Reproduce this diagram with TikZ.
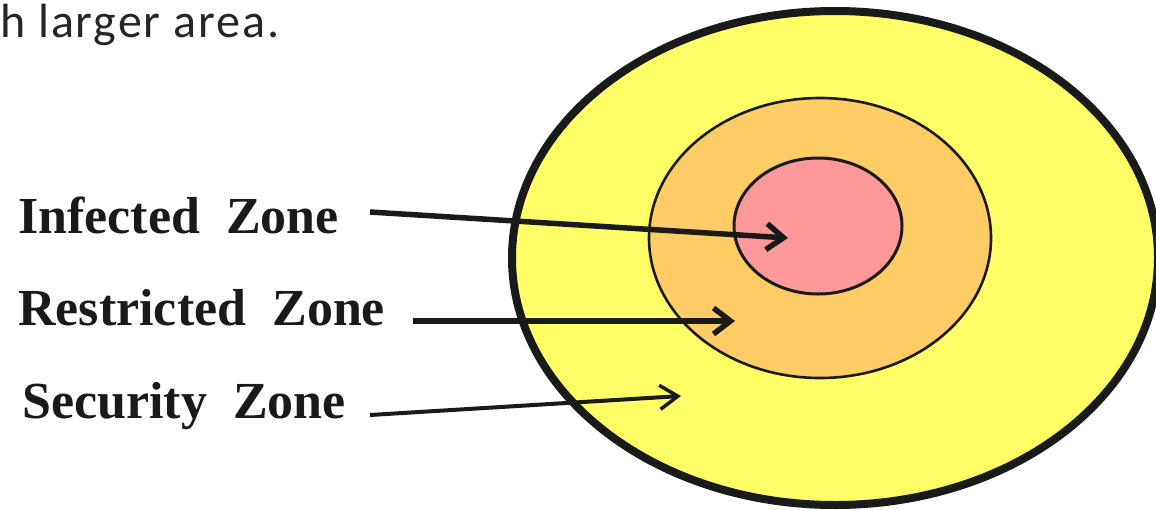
\documentclass[tikz,border=0pt]{standalone}
\usepackage{fontspec}
\setmainfont{Liberation Serif}
\newfontfamily\topfont[LetterSpace=4]{Carlito}
\usetikzlibrary{arrows.meta}
\definecolor{zoneY}{HTML}{FFFF66}
\definecolor{zoneO}{HTML}{FFCC66}
\definecolor{zoneP}{HTML}{FF9999}
\definecolor{ink}{HTML}{1A1A1A}
\definecolor{toptext}{HTML}{262626}
\tikzset{
  zone/.style={draw=ink, line join=round},
  lbl/.style={anchor=base west, inner sep=0pt, font=\fontsize{52}{58}\selectfont\bfseries, text=ink},
  arr/.style={draw=ink, line width=5.5pt, -{Straight Barb[length=17pt,width=26pt,line width=5.5pt]}},
}
\begin{document}
\begin{tikzpicture}[x=1pt,y=-1pt]
\useasboundingbox (0,0) rectangle (1156,509);
% zones
\draw[zone, fill=zoneY, line width=8pt] (835,258) ellipse [x radius=323, y radius=247];
\draw[zone, fill=zoneO, line width=2.6pt] (820,238) ellipse [x radius=171, y radius=140];
\draw[zone, fill=zoneP, line width=3pt] (818,226) ellipse [x radius=84, y radius=68];
% top text
\node[anchor=base west, inner sep=0pt, font=\topfont\fontsize{48}{54}\selectfont, text=toptext] (top) at (0,37) {h larger area.};
% labels
\node[lbl] (inf) at (18,233) {Infected\ \ Zone};
\node[lbl] (res) at (18,325) {Restricted\ \ Zone};
\node[lbl] (sec) at (22,418) {Security\ \ Zone};
% arrow ends
\coordinate (sI) at (370,212);
\coordinate (tI) at (788,238);
\coordinate (sR) at (413,321);
\coordinate (tR) at (735,321);
\coordinate (sS) at (370,415);
\coordinate (tS) at (681,396);
\draw[arr] (sI) -- (tI);
\draw[arr] (sR) -- (tR);
\draw[arr, line width=4pt, -{Straight Barb[length=18pt,width=24pt,line width=3.5pt]}] (sS) -- (tS);
\end{tikzpicture}
\end{document}
